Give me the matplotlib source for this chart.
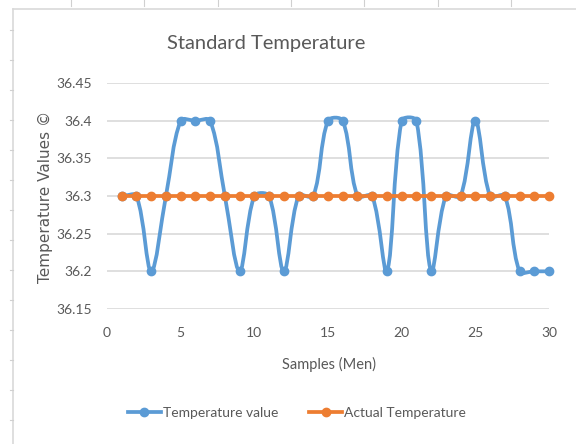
import matplotlib
matplotlib.use("Agg")
import matplotlib.pyplot as plt
from matplotlib.path import Path
from matplotlib.patches import PathPatch
from matplotlib.lines import Line2D
import numpy as np

samples = list(range(1, 31))
temperature_value = [36.3, 36.3, 36.2, 36.3, 36.4, 36.4, 36.4, 36.3, 36.2, 36.3,
                     36.3, 36.2, 36.3, 36.3, 36.4, 36.4, 36.3, 36.3, 36.2, 36.4,
                     36.4, 36.2, 36.3, 36.3, 36.4, 36.3, 36.3, 36.2, 36.2, 36.2]
actual_temperature = [36.3] * 30
y_ticks = [36.15, 36.2, 36.25, 36.3, 36.35, 36.4, 36.45]
y_tick_labels = ["36.15", "36.2", "36.25", "36.3", "36.35", "36.4", "36.45"]
x_ticks = [0, 5, 10, 15, 20, 25, 30]

BLUE = "#5B9BD5"
ORANGE = "#ED7D31"
TXT = "#595959"
GRID = "#D9D9D9"
FONT = ["Lato", "DejaVu Sans"]

plt.rcParams['font.family'] = FONT

W, H = 576, 444
AX_L, AX_R, AX_T, AX_B = 107, 549, 83, 309
X0, X1, Y0, Y1 = 0, 30, 36.15, 36.45


def smooth_path(xs, ys):
    """Excel-like smoothed line (length-weighted Catmull-Rom Beziers,
    computed in pixel space so that steep segments do not overshoot)."""
    sx = (AX_R - AX_L) / (X1 - X0)
    sy = (AX_B - AX_T) / (Y1 - Y0)
    pts = np.column_stack([np.asarray(xs, float) * sx, np.asarray(ys, float) * sy])
    n = len(pts)
    out = [pts[0]]
    codes = [Path.MOVETO]
    for i in range(n - 1):
        p0 = pts[i - 1] if i > 0 else pts[i]
        p1 = pts[i]
        p2 = pts[i + 1]
        p3 = pts[i + 2] if i + 2 < n else pts[i + 1]
        d01 = np.hypot(*(p1 - p0))
        d12 = np.hypot(*(p2 - p1))
        d23 = np.hypot(*(p3 - p2))
        c1 = p1 + (p2 - p0) * (d12 / (d01 + d12) / 3.0) if d01 > 0 else p1 + (p2 - p1) / 3.0
        c2 = p2 - (p3 - p1) * (d12 / (d12 + d23) / 3.0) if d23 > 0 else p2 - (p2 - p1) / 3.0
        out += [c1, c2, p2]
        codes += [Path.CURVE4] * 3
    out = np.array(out)
    out[:, 0] /= sx
    out[:, 1] /= sy
    return Path(out, codes)


fig = plt.figure(figsize=(W / 100, H / 100), dpi=100)
fig.patch.set_facecolor("white")

# chart-area border (partially visible in the screenshot)
fig.add_artist(Line2D([13 / W, 13 / W], [0, 1 - 9 / H], color="#D9D9D9", lw=1.2))
fig.add_artist(Line2D([13 / W, 1], [1 - 9 / H, 1 - 9 / H], color="#D9D9D9", lw=1.2))
# spreadsheet cell ticks outside the chart
for px in [71, 144, 218, 291, 364, 438, 511]:
    fig.add_artist(Line2D([px / W, px / W], [1 - 6 / H, 1], color="#D0D0D0", lw=0.8))
for py in range(30, H, 30):
    fig.add_artist(Line2D([10 / W, 13 / W], [1 - py / H, 1 - py / H], color="#D0D0D0", lw=0.8))

ax = fig.add_axes([AX_L / W, 1 - AX_B / H, (AX_R - AX_L) / W, (AX_B - AX_T) / H])
ax.set_xlim(X0, X1)
ax.set_ylim(Y0, Y1)

for s in ax.spines.values():
    s.set_visible(False)
ax.set_yticks(y_ticks)
ax.set_yticklabels(y_tick_labels)
ax.set_xticks(x_ticks)
ax.tick_params(axis="both", length=0, colors=TXT, labelsize=10)
ax.tick_params(axis="y", pad=11)
ax.tick_params(axis="x", pad=13)
ax.grid(axis="y", color=GRID, lw=1.2)
ax.set_axisbelow(True)

# series
p1 = PathPatch(smooth_path(samples, temperature_value), facecolor="none",
               edgecolor=BLUE, lw=2.7, capstyle="round", joinstyle="round", zorder=3)
ax.add_patch(p1)
ax.plot(samples, temperature_value, linestyle="none", marker="o", ms=6,
        color=BLUE, zorder=3, clip_on=False)
p2 = PathPatch(smooth_path(samples, actual_temperature), facecolor="none",
               edgecolor=ORANGE, lw=2.7, capstyle="round", zorder=4)
ax.add_patch(p2)
ax.plot(samples, actual_temperature, linestyle="none", marker="o", ms=6,
        color=ORANGE, zorder=4, clip_on=False)

fig.text(266 / W, 1 - 43 / H, "Standard Temperature", fontsize=14.5, color=TXT,
         ha="center", va="center")
fig.text(329 / W, 1 - 364 / H, "Samples (Men)", fontsize=10.5, color=TXT,
         ha="center", va="center")
fig.text(45 / W, 1 - 197 / H, "Temperature Values ©", fontsize=11, color=TXT,
         ha="center", va="center", rotation=90, fontfamily=["DejaVu Sans"])

handles = [Line2D([], [], color=BLUE, lw=2.7, marker="o", ms=6),
           Line2D([], [], color=ORANGE, lw=2.7, marker="o", ms=6)]
fig.legend(handles, ["Temperature value", "Actual Temperature"], loc="center",
           bbox_to_anchor=(297 / W, 1 - 413 / H), ncol=2, frameon=False,
           fontsize=10, labelcolor=TXT, handlelength=2.4, handletextpad=0.15,
           columnspacing=2.2)

fig.savefig("out.png", dpi=100, facecolor="white")
